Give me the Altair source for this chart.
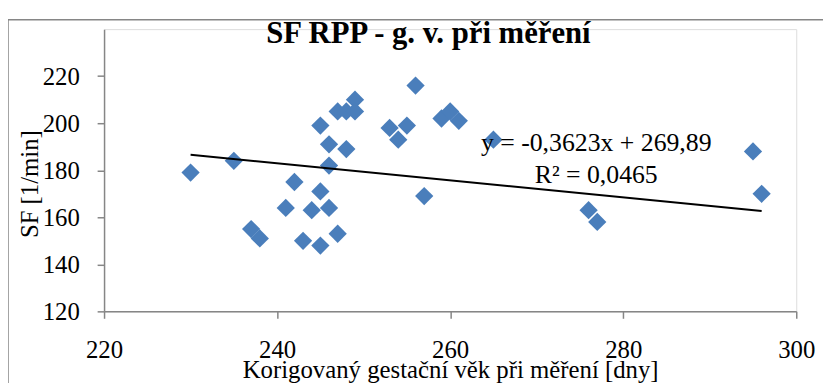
import altair as alt
import pandas as pd

# Data
gest_age = [230, 235, 237, 238, 241, 242, 243, 244, 245, 245, 245, 246, 246, 246, 247, 247,
            248, 248, 249, 249, 253, 254, 255, 256, 257, 259, 260, 261, 265, 276, 277, 295, 296]
heart_rate = [179, 184, 155, 151, 164, 175, 150, 163, 148, 171, 199, 191, 182, 164, 153, 205,
              205, 189, 210, 205, 198, 193, 199, 216, 169, 202, 205, 201, 193, 163, 158, 188, 170]

slope = -0.3623
intercept = 269.89
eq_lines = ["y = -0,3623x + 269,89", "R² = 0,0465"]

x_ticks = [220, 240, 260, 280, 300]
y_ticks = [120, 140, 160, 180, 200, 220]

FONT = "Liberation Serif"
AXIS_GRAY = "#868686"
BLUE = "#4A7EBB"

df = pd.DataFrame({"age": gest_age, "sf": heart_rate})
x_lo, x_hi = min(gest_age), max(gest_age)
trend_df = pd.DataFrame({"age": [x_lo, x_hi],
                         "sf": [slope * x_lo + intercept, slope * x_hi + intercept]})

x_scale = alt.Scale(domain=[220, 300], nice=False, zero=False)
y_scale = alt.Scale(domain=[120, 240], nice=False, zero=False)

x_axis = alt.Axis(values=x_ticks, title="Korigovaný gestační věk při měření [dny]",
                  grid=False, labelFont=FONT, labelFontSize=25, labelColor="black",
                  labelPadding=20, labelFlush=False, tickSize=7, tickColor=AXIS_GRAY,
                  tickWidth=1.5, domainColor=AXIS_GRAY, domainWidth=1.5,
                  titleFont=FONT, titleFontSize=25, titleFontWeight="normal",
                  titleColor="black", titleY=67, titleBaseline="alphabetic")
y_axis = alt.Axis(values=y_ticks, title="SF [1/min]", grid=False,
                  labelFont=FONT, labelFontSize=25, labelColor="black",
                  labelPadding=18, labelFlush=False, tickSize=7, tickColor=AXIS_GRAY,
                  tickWidth=1.5, domainColor=AXIS_GRAY, domainWidth=1.5,
                  titleFont=FONT, titleFontSize=25, titleFontWeight="normal",
                  titleColor="black", titleAngle=-90, titleX=-75, titleY=156,
                  titleAlign="center", titleBaseline="middle")

border = alt.Chart(pd.DataFrame({"k": [0]})).mark_rect(
    filled=False, stroke=AXIS_GRAY, strokeWidth=1.5
).encode(x=alt.value(-97), x2=alt.value(1000), y=alt.value(-9.5), y2=alt.value(700))

points = alt.Chart(df).mark_point(
    shape="diamond", filled=True, size=340, color=BLUE, opacity=1
).encode(
    x=alt.X("age:Q", scale=x_scale, axis=x_axis),
    y=alt.Y("sf:Q", scale=y_scale, axis=y_axis),
)

trend = alt.Chart(trend_df).mark_line(color="black", strokeWidth=2).encode(
    x=alt.X("age:Q", scale=x_scale),
    y=alt.Y("sf:Q", scale=y_scale),
)

eq_text = alt.Chart(pd.DataFrame({"k": [0]})).mark_text(
    font=FONT, fontSize=26, color="black", align="center", baseline="alphabetic",
    lineHeight=32
).encode(x=alt.value(497), y=alt.value(123), text=alt.value(eq_lines))

chart = alt.layer(border, points, trend, eq_text).properties(
    width=699, height=285,
    padding={"left": 97, "top": 19.5, "right": 27, "bottom": 70},
    autosize=alt.AutoSizeParams(type="none"),
    title=alt.Title("SF RPP - g. v. při měření", font=FONT, fontSize=31,
                    fontWeight="bold", color="black", anchor="middle", frame="group",
                    offset=0, baseline="alphabetic", dx=-22, dy=55),
).configure_view(stroke=None).configure(background="white")

chart.save("out.html", embed_options={"renderer": "svg", "actions": False})
